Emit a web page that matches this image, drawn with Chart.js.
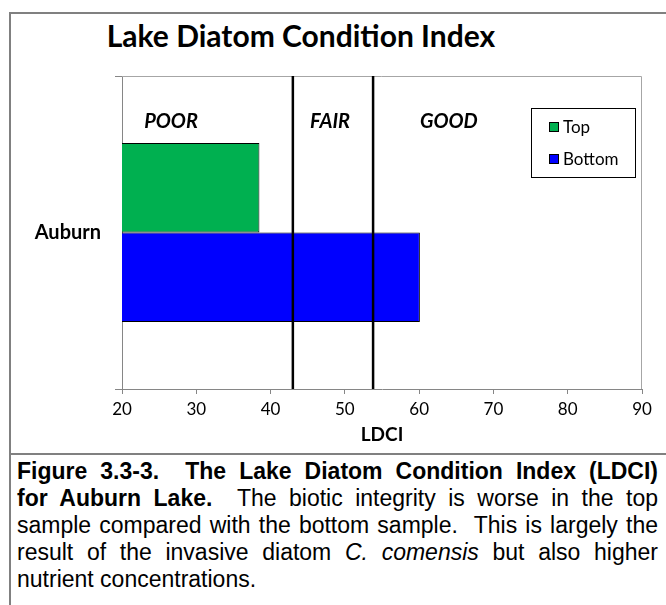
<!DOCTYPE html>
<html>
<head>
<meta charset="utf-8">
<script src="https://cdn.jsdelivr.net/npm/chart.js@4.4.1/dist/chart.umd.min.js"></script>
<style>
  html, body { margin: 0; padding: 0; background: #fff; }
  body { width: 666px; height: 605px; position: relative; overflow: hidden; }
  #frame {
    position: absolute; left: 9px; top: 12px; width: 700px; height: 620px;
    border-left: 2px solid #808080; border-top: 2px solid #808080;
  }
  #sep { position: absolute; left: 9px; top: 453px; width: 700px; height: 2px; background: #808080; }
  #chart { position: absolute; left: 0; top: 0; }
  #title {
    position: absolute; left: 0; width: 602px; top: 20px; text-align: center;
    font: bold 30px Lato, sans-serif; line-height: 30px; color: #000;
  }
  #caption {
    position: absolute; left: 17px; top: 458px; width: 641px;
    font-family: "Liberation Sans", Arial, sans-serif; font-size: 23px; line-height: 27px; color: #000;
  }
  #caption .ln { text-align: justify; text-align-last: justify; }
</style>
</head>
<body>
<div id="frame"></div>
<div id="sep"></div>
<div id="title">Lake Diatom Condition Index</div>
<canvas id="chart" width="666" height="452"></canvas>
<div id="caption">
  <div class="ln"><b>Figure 3.3-3.&nbsp; The Lake Diatom Condition Index (LDCI)</b></div>
  <div class="ln"><b>for Auburn Lake.</b>&nbsp; The biotic integrity is worse in the top</div>
  <div class="ln">sample compared with the bottom sample.&nbsp; This is largely the</div>
  <div class="ln">result of the invasive diatom <i>C. comensis</i> but also higher</div>
  <div>nutrient concentrations.</div>
</div>
<script>
// données
const lakes = ['Auburn']
const seriesNames = ['Top', 'Bottom']
const topValues = [38.5]
const bottomValues = [60.1]
const seriesColors = ['#00b050', '#0000ff']

// limites des classes POOR / FAIR / GOOD
const boundaries = [43.0, 53.8]
const zoneNames = ['POOR', 'FAIR', 'GOOD']
const zoneCenters = [26.6, 48.0, 64.0]

const xMin = 20
const xMax = 90
const xStep = 10

const font = 'Lato, sans-serif'

const zonesAndLegend = {
  id: 'zonesAndLegend',
  beforeDatasetsDraw(chart) {
    const { ctx, chartArea } = chart
    ctx.save()
    ctx.strokeStyle = '#a6a6a6'
    ctx.lineWidth = 1
    ctx.beginPath()
    ctx.moveTo(chartArea.left, chartArea.top + 0.5)
    ctx.lineTo(chartArea.right - 0.5, chartArea.top + 0.5)
    ctx.lineTo(chartArea.right - 0.5, chartArea.bottom)
    ctx.stroke()
    ctx.restore()
  },
  afterDatasetsDraw(chart) {
    const { ctx, chartArea, scales } = chart
    // lignes verticales des limites de classes
    ctx.save()
    ctx.strokeStyle = '#000'
    ctx.lineWidth = 2.5
    boundaries.forEach(v => {
      const x = scales.x.getPixelForValue(v)
      ctx.beginPath()
      ctx.moveTo(x, chartArea.top)
      ctx.lineTo(x, chartArea.bottom)
      ctx.stroke()
    })
    ctx.restore()
  },
  afterDraw(chart) {
    const { ctx, chartArea, scales } = chart
    ctx.save()
    // noms des zones
    ctx.fillStyle = '#000'
    ctx.font = `italic bold 20px ${font}`
    ctx.textAlign = 'center'
    ctx.textBaseline = 'middle'
    zoneNames.forEach((name, i) => {
      ctx.fillText(name, scales.x.getPixelForValue(zoneCenters[i]), chartArea.top + 46)
    })

    // légende
    const bx = chartArea.right - 111
    const by = chartArea.top + 32
    ctx.fillStyle = '#fff'
    ctx.fillRect(bx, by, 104, 69)
    ctx.strokeStyle = '#000'
    ctx.lineWidth = 1
    ctx.strokeRect(bx + 0.5, by + 0.5, 104, 69)
    ctx.font = `17px ${font}`
    ctx.textAlign = 'left'
    seriesNames.forEach((name, i) => {
      const cy = by + 19 + i * 32
      ctx.fillStyle = seriesColors[i]
      ctx.fillRect(bx + 18, cy - 5, 10, 10)
      ctx.strokeStyle = '#000'
      ctx.strokeRect(bx + 18.5, cy - 4.5, 9, 9)
      ctx.fillStyle = '#000'
      ctx.fillText(name, bx + 32, cy + 1)
    })
    ctx.restore()
  },
}

new Chart(document.getElementById('chart'), {
  type: 'bar',
  data: {
    labels: lakes,
    datasets: [
      {
        label: seriesNames[0],
        data: topValues,
        backgroundColor: seriesColors[0],
        borderColor: '#000',
        borderWidth: 1,
      },
      {
        label: seriesNames[1],
        data: bottomValues,
        backgroundColor: seriesColors[1],
        borderColor: '#000',
        borderWidth: 1,
      },
    ],
  },
  options: {
    indexAxis: 'y',
    responsive: false,
    animation: false,
    categoryPercentage: 0.572,
    barPercentage: 1,
    layout: { padding: { top: 76, right: 24, left: 0, bottom: 0 } },
    plugins: {
      legend: { display: false },
      tooltip: { enabled: false },
      title: { display: false },
    },
    scales: {
      x: {
        type: 'linear',
        position: 'bottom',
        min: xMin,
        max: xMax,
        ticks: { stepSize: xStep, color: '#000', font: { family: font, size: 17 }, padding: 5 },
        grid: { drawOnChartArea: false, tickLength: 5, color: '#868686' },
        border: { color: '#868686' },
        title: {
          display: true,
          text: 'LDCI',
          color: '#000',
          font: { family: font, size: 19, weight: 'bold' },
          padding: { top: 0, bottom: 6 },
        },
        afterFit: scale => { scale.height = 63 },
      },
      y: {
        type: 'category',
        position: 'left',
        offset: true,
        ticks: { color: '#000', font: { family: font, size: 20, weight: 'bold' }, padding: 14 },
        grid: { drawOnChartArea: false, tickLength: 7, color: '#868686', offset: true },
        border: { color: '#868686' },
        afterFit: scale => { scale.width = 122 },
      },
    },
  },
  plugins: [zonesAndLegend],
})
</script>
</body>
</html>
